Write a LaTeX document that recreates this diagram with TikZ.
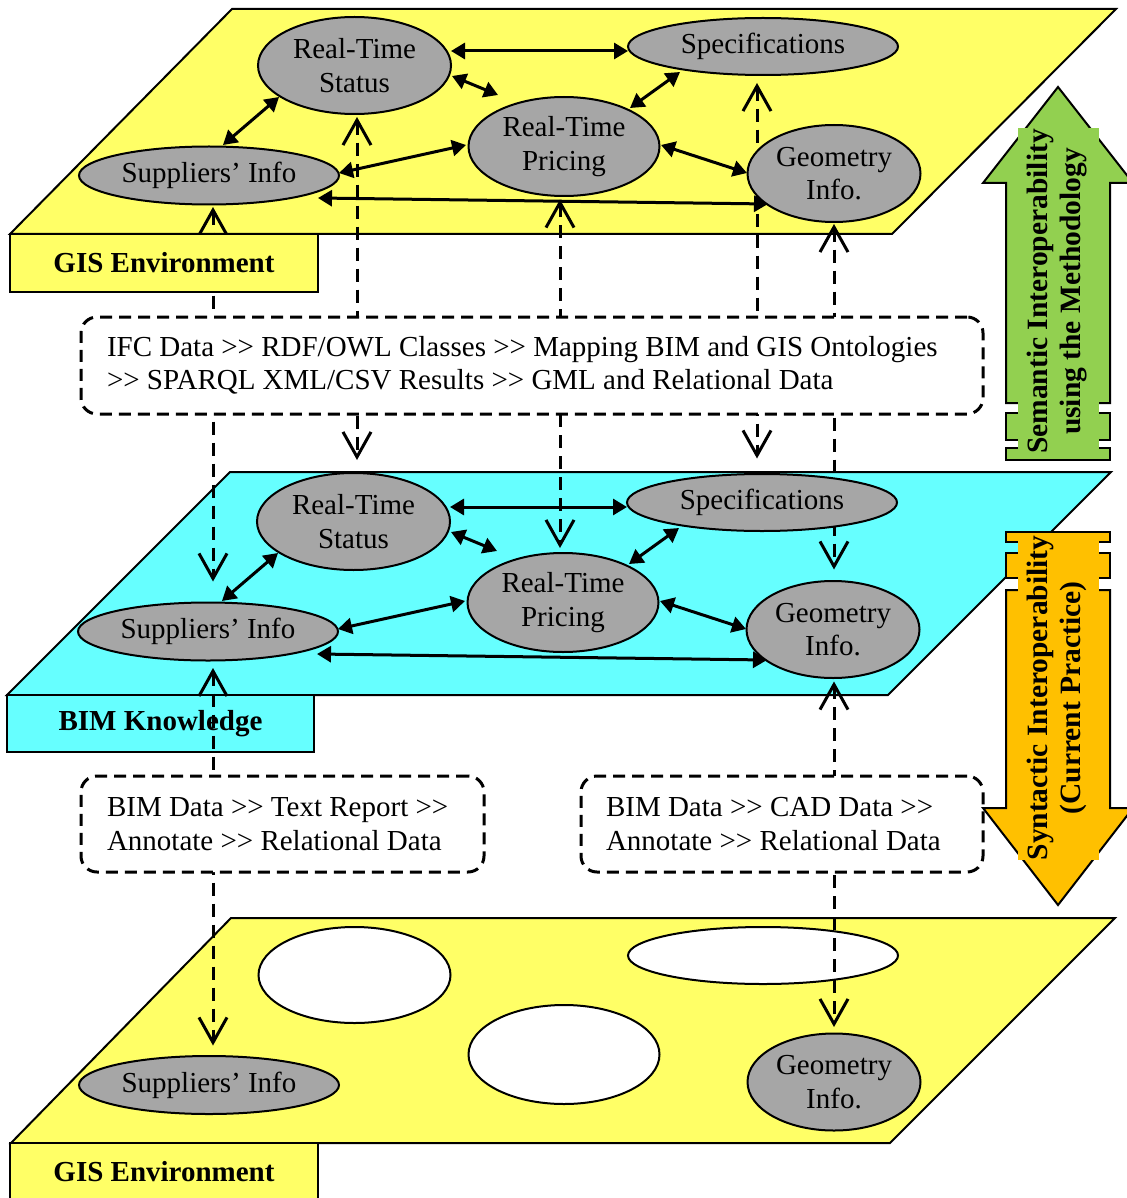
\documentclass[tikz,border=0pt]{standalone}
\usepackage{fontspec}
\setmainfont{Liberation Serif}
\usetikzlibrary{arrows.meta,calc,shapes.geometric}

\definecolor{gisyellow}{HTML}{FFFF66}
\definecolor{bimcyan}{HTML}{66FFFF}
\definecolor{nodegray}{HTML}{A6A6A6}
\definecolor{semgreen}{HTML}{92D050}
\definecolor{synorange}{HTML}{FFC000}

% two ">" without the TeX-ligature guillemet
\newcommand{\gtgt}{>\kern0pt>}

\pgfdeclarelayer{planes}
\pgfdeclarelayer{links}
\pgfdeclarelayer{boxes}
\pgfsetlayers{planes,links,boxes,main}

\tikzset{
  txt/.style={font=\fontsize{29}{33.5}\selectfont},
  entity/.style={ellipse, draw=black, line width=2pt, fill=nodegray, inner sep=0pt, align=center, txt},
  blank/.style={ellipse, draw=black, line width=2pt, fill=white, inner sep=0pt},
  plane/.style={draw=black, line width=2pt, line join=miter},
  layertag/.style={draw=black, line width=2pt, inner sep=0pt, minimum width=308pt, minimum height=58pt,
    font=\fontsize{29}{33.5}\selectfont\bfseries},
  flowbox/.style={draw=black, fill=white, line width=3pt, dash pattern=on 12pt off 7pt,
    rounded corners=16pt, align=flush left, txt, inner ysep=0pt},
  link/.style={line width=3pt, {Triangle[length=14pt,width=16pt]}-{Triangle[length=14pt,width=16pt]}},
  vlink/.style={line width=3pt, dash pattern=on 13pt off 8pt,
    {Straight Barb[length=25pt,width=28pt]}-{Straight Barb[length=25pt,width=28pt]}},
  bigarrow/.style={draw=black, line width=2pt, line join=miter},
  arrowtext/.style={rotate=90, align=center, inner sep=0pt, font=\fontsize{29.5}{33.5}\selectfont\bfseries},
}

% one layer of the knowledge network: prefix, x offset, y offset
\newcommand{\netlayer}[3]{%
  \node[entity, minimum width=193pt, minimum height=97pt] (#1rts)  at ({354.5+#2},{65.5+#3})  {Real-Time\\Status};
  \node[entity, minimum width=270pt, minimum height=57pt] (#1spec) at ({763+#2},{46.5+#3})    {Specifications};
  \node[entity, minimum width=191pt, minimum height=99pt] (#1rtp)  at ({564+#2},{146.5+#3})   {Real-Time\\Pricing};
  \node[entity, minimum width=260pt, minimum height=58pt] (#1sup)  at ({209+#2},{175.5+#3})   {Suppliers’ Info};
  \node[entity, minimum width=173pt, minimum height=97pt] (#1geo)  at ({834+#2},{173.5+#3})   {Geometry\\Info.};
  \draw[link] ($(#1rts)+(96.5,-14.5)$) -- ($(#1spec)+(-135,4.5)$);
  \draw[link] ($(#1rts)+(97.5,10.5)$)  -- ($(#1rtp)+(-66,-51.5)$);
  \draw[link] ($(#1rts)+(-75.5,31.5)$) -- ($(#1sup)+(14,-30.5)$);
  \draw[link] ($(#1spec)+(-83,25.5)$)  -- ($(#1rtp)+(66,-38.5)$);
  \draw[link] ($(#1rtp)+(-98,-1.5)$)   -- ($(#1sup)+(130,-2.5)$);
  \draw[link] ($(#1rtp)+(97,-1.5)$)    -- ($(#1geo)+(-87,-0.5)$);
  \draw[link] ($(#1sup)+(109,22.5)$)   -- ($(#1geo)+(-66,30.5)$);
}

\begin{document}
\begin{tikzpicture}[x=1pt,y=-1pt]
\useasboundingbox (0,0) rectangle (1126,1198);

% ---------- the three planes ----------
\begin{pgfonlayer}{planes}
  \draw[plane, fill=gisyellow] (232,9) -- (1116,9) -- (892,234) -- (10,234) -- cycle;
  \draw[plane, fill=bimcyan] (230,472) -- (1111,472) -- (888,695) -- (7,695) -- cycle;
  \draw[plane, fill=gisyellow] (231,918) -- (1115,918) -- (890,1143) -- (11,1143) -- cycle;
  \node[layertag, fill=bimcyan, minimum width=307pt, minimum height=57pt] (bimtag) at (160.5,723.5) {BIM Knowledge};
  % empty slots of the lower GIS layer
  \node[blank, minimum width=192pt, minimum height=96pt] (bslot1) at (354.5,975) {};
  \node[blank, minimum width=270pt, minimum height=57pt] (bslot2) at (763,955.5) {};
  \node[blank, minimum width=191pt, minimum height=99pt] (bslot3) at (564,1054.5) {};
\end{pgfonlayer}

% ---------- networks ----------
\netlayer{t}{0}{0}
\netlayer{m}{-1}{456}
\node[entity, minimum width=260pt, minimum height=58pt] (bsup) at (209,1085) {Suppliers’ Info};
\node[entity, minimum width=173pt, minimum height=97pt] (bgeo) at (834,1082) {Geometry\\Info.};

% ---------- exchanges between layers ----------
\begin{pgfonlayer}{links}
  \draw[vlink] ($(tsup.south)+(4,1.5)$)  -- ($(msup.north)+(5,-20)$);
  \draw[vlink] ($(trts.south)+(2.5,2)$)  -- ($(mrts.north)+(3.5,-12)$);
  \draw[vlink] ($(trtp.south)+(-4,2.5)$) -- ($(mrtp.north)+(-3,-4)$);
  \draw[vlink] ($(tspec.south)+(-6,7)$)  -- ($(mspec.north)+(-5,-14.5)$);
  \draw[vlink] ($(tgeo.south)+(0,1)$)    -- ($(mgeo.north)+(1,-10.5)$);
  \draw[vlink] ($(msup.south)+(5,6.5)$)  -- ($(bsup.north)+(4,-9.5)$);
  \draw[vlink] ($(mgeo.south)+(1,2.5)$)  -- ($(bgeo.north)+(0,-5.5)$);
\end{pgfonlayer}

% ---------- process boxes and GIS tags ----------
\begin{pgfonlayer}{boxes}
  \node[flowbox, minimum width=902pt, minimum height=97pt, inner xsep=26pt, text width=850pt] (semflow) at (532,365.5)
    {\mbox{IFC Data \gtgt{} RDF/OWL Classes \gtgt{} Mapping BIM and GIS Ontologies}\\
     \mbox{\gtgt{} SPARQL XML/CSV Results \gtgt{} GML and Relational Data}};
  \node[flowbox, minimum width=403pt, minimum height=96pt, inner xsep=26pt, text width=351pt] (textflow) at (282.5,824)
    {\mbox{BIM Data \gtgt{} Text Report \gtgt}\\\mbox{Annotate \gtgt{} Relational Data}};
  \node[flowbox, minimum width=402pt, minimum height=96pt, inner xsep=25pt, text width=352pt] (cadflow) at (782,824)
    {\mbox{BIM Data \gtgt{} CAD Data \gtgt}\\\mbox{Annotate \gtgt{} Relational Data}};
  \node[layertag, fill=gisyellow] (gistop) at (164,263) {GIS Environment};
  \node[layertag, fill=gisyellow] (gisbot) at (164,1172) {GIS Environment};
\end{pgfonlayer}

% ---------- semantic interoperability (upward striped arrow) ----------
\draw[bigarrow, fill=semgreen] (1058,87) -- (1133,183) -- (1110,183) -- (1110,403)
  -- (1006,403) -- (1006,183) -- (983,183) -- cycle;
\draw[bigarrow, fill=semgreen] (1006,413) rectangle (1110,440);
\draw[bigarrow, fill=semgreen] (1006,448) rectangle (1110,460);
\fill[semgreen] (1018,128) rectangle (1099,456);
\node[arrowtext] (semtext) at (1057,291.5) {Semantic Interoperability\\using the Methodology};

% ---------- syntactic interoperability (downward striped arrow) ----------
\draw[bigarrow, fill=synorange] (1006,532) rectangle (1110,542);
\draw[bigarrow, fill=synorange] (1006,553) rectangle (1110,578);
\draw[bigarrow, fill=synorange] (1006,590) -- (1110,590) -- (1110,808) -- (1133,808)
  -- (1058,905) -- (983,808) -- (1006,808) -- cycle;
\fill[synorange] (1018,535) rectangle (1099,860);
\node[arrowtext] (syntext) at (1057,698) {Syntactic Interoperability\\(Current Practice)};

\end{tikzpicture}
\end{document}
